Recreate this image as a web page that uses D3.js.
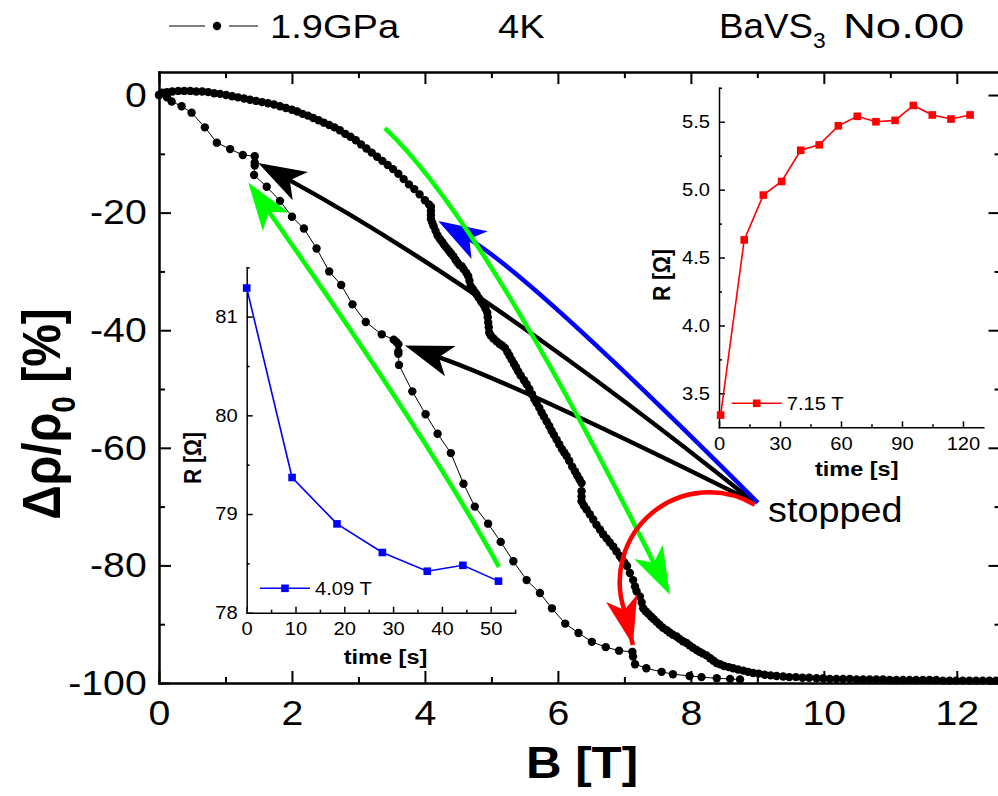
<!DOCTYPE html>
<html><head><meta charset="utf-8">
<script src="https://cdn.jsdelivr.net/npm/d3@7"></script>
<style>body{margin:0;background:#fff} svg{display:block}</style>
</head><body>
<svg id="c" width="998" height="796"></svg>
<script>
// ================= DATA =================
// main curve: field sweep with stops (B [T], Δρ/ρ0 [%])
const upperSweep = [
[0.00,0.0],[0.05,0.4],[0.12,0.5],[0.20,0.6],[0.29,0.7],[0.38,0.7],[0.47,0.7],[0.56,0.6],[0.65,0.6],[0.74,0.5],
[0.83,0.3],[0.92,0.2],[1.01,0.0],[1.10,-0.2],[1.19,-0.4],[1.28,-0.6],[1.37,-0.8],[1.46,-1.0],[1.55,-1.2],[1.64,-1.4],
[1.73,-1.6],[1.82,-1.9],[1.91,-2.2],[2.00,-2.5],[2.08,-2.8],[2.16,-3.2],[2.24,-3.5],[2.32,-3.9],[2.40,-4.3],[2.48,-4.7],
[2.56,-5.1],[2.64,-5.5],[2.72,-6.0],[2.80,-6.6],[2.88,-7.1],[2.96,-7.7],[3.04,-8.4],[3.12,-9.1],[3.20,-9.8],[3.28,-10.5],
[3.36,-11.2],[3.44,-11.9],[3.52,-12.6],[3.60,-13.4],[3.68,-14.3],[3.76,-15.2],[3.84,-16.0],[3.92,-16.9],[4.00,-17.9],[4.06,-18.6],
[4.09,-19.0],[4.09,-19.7],[4.09,-20.4],[4.09,-21.1],[4.11,-21.7],[4.13,-22.3],[4.16,-23.1],[4.19,-23.9],[4.225,-24.5],[4.26,-25.0],
[4.29,-25.5],[4.326,-26.0],[4.36,-26.5],[4.39,-26.9],[4.426,-27.4],[4.46,-28.0],[4.49,-28.5],[4.52,-28.9],[4.551,-29.1],[4.58,-29.6],
[4.62,-30.2],[4.651,-30.8],[4.67,-31.6],[4.687,-32.5],[4.72,-33.0],[4.75,-33.5],[4.777,-33.9],[4.81,-34.5],[4.845,-35.1],[4.877,-35.6],
[4.91,-36.3],[4.937,-37.0],[4.945,-37.8],[4.952,-38.7],[4.96,-39.5],[4.967,-40.4],[4.99,-40.9],[5.03,-41.4],[5.078,-41.9],[5.12,-42.3],
[5.16,-42.6],[5.203,-43.0],[5.24,-43.7],[5.27,-44.3],[5.304,-45.0],[5.34,-45.7],[5.37,-46.3],[5.403,-47.0],[5.44,-47.7],[5.49,-48.5],
[5.529,-49.2],[5.57,-50.0],[5.61,-50.9],[5.645,-51.7],[5.68,-52.4],[5.72,-53.2],[5.755,-54.0],[5.79,-54.7],[5.83,-55.5],[5.87,-56.3],
[5.905,-57.1],[5.94,-57.8],[5.98,-58.6],[6.02,-59.4],[6.06,-60.2],[6.095,-60.8],[6.131,-61.4],[6.17,-62.2],[6.215,-63.2],[6.256,-64.0],
[6.29,-64.7],[6.325,-65.4],[6.356,-66.0],[6.356,-67.4],[6.356,-68.3],[6.356,-69.1],[6.39,-69.8],[6.431,-70.5],[6.48,-71.3],[6.531,-72.2],
[6.58,-73.1],[6.632,-73.9],[6.68,-74.7],[6.732,-75.4],[6.78,-76.1],[6.832,-76.8],[6.88,-77.6],[6.93,-78.4],[6.958,-78.8],[7.00,-79.5],
[7.04,-80.1],[7.083,-81.3],[7.132,-82.5],[7.16,-83.6],[7.183,-84.4],[7.233,-85.3],[7.26,-86.3],[7.283,-87.3],[7.32,-87.8],[7.358,-88.2],
[7.40,-88.7],[7.44,-89.1],[7.484,-89.6],[7.53,-90.1],[7.58,-90.6],[7.634,-91.0],[7.68,-91.4],[7.73,-91.8],[7.785,-92.1],[7.83,-92.5],
[7.88,-92.9],[7.935,-93.2],[7.98,-93.6],[8.03,-94.0],[8.086,-94.4],[8.13,-94.7],[8.18,-95.0],[8.236,-95.3],[8.29,-95.8],[8.34,-96.2],
[8.386,-96.6],[8.44,-96.8],[8.50,-97.1],[8.57,-97.3],[8.636,-97.5],[8.71,-97.7],[8.79,-97.9],[8.86,-98.1],[8.937,-98.3],[9.02,-98.4],
[9.11,-98.6],[9.20,-98.7],[9.29,-98.8],[9.388,-98.9],[9.48,-99.0],[9.58,-99.0],[9.68,-99.1],[9.78,-99.1],[9.89,-99.2],[9.99,-99.2],
[10.09,-99.3],[10.19,-99.3],[10.29,-99.3],[10.39,-99.3],[10.49,-99.4],[10.59,-99.4],[10.69,-99.4],[10.79,-99.4],[10.89,-99.4],[10.99,-99.5],
[11.09,-99.5],[11.19,-99.5],[11.29,-99.5],[11.39,-99.5],[11.49,-99.5],[11.59,-99.5],[11.69,-99.5],[11.79,-99.6],[11.89,-99.6],[11.99,-99.6],
[12.09,-99.6],[12.19,-99.6],[12.29,-99.6],[12.39,-99.6],[12.49,-99.6],[12.59,-99.6]
];
const lowerSweep = [
[0.00,0.0],[0.12,-0.4],[0.19,-1.1],[0.34,-1.9],[0.49,-3.0],[0.69,-5.5],[0.87,-8.1],[1.07,-9.2],[1.26,-10.2],[1.44,-10.4],
[1.44,-11.5],[1.44,-12.0],[1.43,-13.6],[1.62,-15.6],[1.82,-18.0],[2.00,-20.7],[2.18,-22.7],[2.37,-26.1],[2.56,-30.0],[2.74,-32.3],
[2.91,-35.6],[3.11,-38.6],[3.35,-40.7],[3.53,-41.6],[3.57,-42.0],[3.60,-42.4],[3.60,-43.6],[3.60,-44.0],[3.61,-45.9],[3.81,-50.4],
[4.01,-54.3],[4.19,-57.6],[4.39,-60.9],[4.58,-66.1],[4.75,-70.0],[4.95,-72.9],[5.14,-76.0],[5.33,-79.3],[5.53,-82.5],[5.73,-84.7],
[5.91,-87.3],[6.11,-89.9],[6.31,-91.5],[6.51,-93.0],[6.72,-93.9],[6.92,-94.5],[7.12,-94.7],[7.13,-95.5],[7.16,-96.8],[7.33,-97.5],
[7.56,-98.1],[7.73,-98.5],[7.98,-98.8],[8.16,-99.0],[8.39,-99.2],[8.59,-99.3],[8.74,-99.4]
];
// inset at 4.09 T
const relaxA_time = [0, 9.3, 18.5, 27.8, 37.0, 44.3, 51.6];
const relaxA_R    = [81.29, 79.37, 78.90, 78.61, 78.42, 78.48, 78.32];
// inset at 7.15 T
const relaxB_time = [0.8, 12.4, 21.8, 30.8, 40.2, 49.3, 58.7, 68.0, 77.2, 86.6, 95.6, 104.9, 114.1, 123.5];
const relaxB_R    = [3.34, 4.63, 4.96, 5.06, 5.29, 5.33, 5.47, 5.54, 5.50, 5.51, 5.62, 5.55, 5.52, 5.55];

// ticks
const mainXMajor = [0,2,4,6,8,10,12], mainXMinor = [1,3,5,7,9,11];
const mainYMajor = [0,-20,-40,-60,-80,-100], mainYMinor = [-10,-30,-50,-70,-90];
const inAXMajor = [0,10,20,30,40,50], inAXMinor = [5,15,25,35,45,55];
const inAYMajor = [78,79,80,81], inAYMinor = [78.5,79.5,80.5,81.5];
const inBXMajor = [0,30,60,90,120], inBXMinor = [15,45,75,105];
const inBYMajor = [3.5,4.0,4.5,5.0,5.5], inBYMinor = [3.75,4.25,4.75,5.25,5.75];

// labels
const legendMain = "1.9GPa", tempLabel = "4K", sampleLabel = "BaVS", sampleSub = "3", sampleNo = "No.00";
const legendA = "4.09 T", legendB = "7.15 T", stopLabel = "stopped";

// annotation arrows (data coordinates of main plot: [B, Δρ/ρ0])
const arrowsQ = [
  {color:"#000000", from:[8.962,-69.34], ctrl:[4.917,-32.68], tip:[1.492,-11.58]},
  {color:"#000000", from:[8.962,-69.34], ctrl:[5.409,-49.30], tip:[3.699,-42.59]},
  {color:"#0000ff", from:[9.008,-69.34], ctrl:[5.586,-30.58], tip:[4.200,-21.41]},
  {color:"#00ff00", from:[5.113,-80.24], ctrl:[4.030,-58.09], tip:[1.343,-14.87]},
  {color:"#00ff00", from:[3.398,-5.62],  ctrl:[4.857,-21.14], tip:[7.684,-85.01]}
];
const redArc = {color:"#ff0000", pts:[[8.962,-69.68],[7.729,-69.34],[6.977,-84.67]], end:[7.008,-87.9], tip:[7.128,-93.53]};

// ================= DRAW =================
const FONT = '"Liberation Sans", Arial, Helvetica, sans-serif';
const SX = 1.12;
const DOT = 4.2;
const svg = d3.select("#c");
const fmtInt = d => String(d);

const x = d3.scaleLinear().domain([0,12.65]).range([159,1000]);
const y = d3.scaleLinear().domain([-100,3.9]).range([683,72.1]);

function txt(parent, tx, ty, pieces, o={}) {
  const size=o.size||18, rot=o.rotate||0, sx=o.sx||SX;
  const g = parent.append("g").attr("transform",`translate(${tx},${ty}) scale(${sx},1) rotate(${rot})`);
  const t = g.append("text").attr("text-anchor",o.anchor||"start").attr("font-size",size)
    .attr("font-weight",o.weight||"normal").attr("fill",o.fill||"#000").attr("font-family",FONT);
  if (o.dy) t.attr("dy",o.dy);
  if (typeof pieces==="string") pieces=[[pieces]];
  pieces.forEach(p=>{
    const s=t.append("tspan").text(p[0]);
    if (p[1]==="sub") s.attr("font-size",size*0.62).attr("dy",size*0.28);
    if (p[1]==="after") s.attr("dy",-size*0.28);
  });
  return t;
}
function styleAxis(g, fs, sw, tw) {
  g.attr("font-size",fs).attr("font-family",FONT);
  g.select(".domain").attr("stroke","#000").attr("stroke-width",sw).attr("stroke-linecap","square");
  g.selectAll(".tick line").attr("stroke","#000").attr("stroke-width",tw);
  g.selectAll(".tick text").attr("fill","#000").attr("transform",`scale(${SX},1)`);
  return g;
}
function minor(g){ g.select(".domain").remove(); return g; }

// ---------- insets (behind) ----------
function inset(cfg){
  const ix=d3.scaleLinear().domain(cfg.xd).range(cfg.xr);
  const iy=d3.scaleLinear().domain(cfg.yd).range(cfg.yr);
  const g=svg.append("g");
  styleAxis(g.append("g").attr("transform",`translate(0,${cfg.yr[0]})`)
    .call(d3.axisBottom(ix).tickValues(cfg.xMaj).tickSize(-6).tickSizeOuter(0).tickPadding(10).tickFormat(fmtInt)),18,1.5,1.5);
  minor(styleAxis(g.append("g").attr("transform",`translate(0,${cfg.yr[0]})`)
    .call(d3.axisBottom(ix).tickValues(cfg.xMin).tickSize(-3).tickFormat("")),18,1.5,1.5));
  styleAxis(g.append("g").attr("transform",`translate(${cfg.xr[0]},0)`)
    .call(d3.axisLeft(iy).tickValues(cfg.yMaj).tickSize(-6).tickSizeOuter(0).tickPadding(8).tickFormat(cfg.yFmt)),18,1.5,1.5);
  minor(styleAxis(g.append("g").attr("transform",`translate(${cfg.xr[0]},0)`)
    .call(d3.axisLeft(iy).tickValues(cfg.yMin).tickSize(-3).tickFormat("")),18,1.5,1.5));
  const pts=cfg.t.map((t,i)=>[t,cfg.r[i]]);
  g.append("path").attr("d",d3.line().x(d=>ix(d[0])).y(d=>iy(d[1]))(pts))
    .attr("fill","none").attr("stroke",cfg.color).attr("stroke-width",1.6);
  g.selectAll("rect.pt").data(pts).join("rect").attr("class","pt")
    .attr("x",d=>ix(d[0])-3.8).attr("y",d=>iy(d[1])-3.8).attr("width",7.6).attr("height",7.6).attr("fill",cfg.color);
  // legend
  const lx=cfg.legX, ly=cfg.legY;
  g.append("line").attr("x1",lx).attr("x2",lx+50).attr("y1",ly).attr("y2",ly).attr("stroke",cfg.color).attr("stroke-width",1.6);
  g.append("rect").attr("x",lx+25-3.8).attr("y",ly-3.8).attr("width",7.6).attr("height",7.6).attr("fill",cfg.color);
  txt(g, lx+55, ly+6.5, cfg.leg, {size:18});
  txt(g, cfg.yTitle[0], cfg.yTitle[1], "R [Ω]", {size:21, weight:"bold", anchor:"middle", rotate:-90, dy:"0.35em"});
  txt(g, cfg.xTitle[0], cfg.xTitle[1], "time [s]", {size:21, weight:"bold", anchor:"middle"});
}
inset({xd:[0,55], xr:[246.7,515.1], yd:[78,81.5], yr:[612.7,267.3], xMaj:inAXMajor, xMin:inAXMinor,
  yMaj:inAYMajor, yMin:inAYMinor, yFmt:fmtInt, t:relaxA_time, r:relaxA_R, color:"#0000ff",
  legX:260, legY:588.3, leg:legendA, yTitle:[192.5,458], xTitle:[385.5,664]});
inset({xd:[0,130], xr:[719,983.3], yd:[3.25,5.75], yr:[427.3,87.8], xMaj:inBXMajor, xMin:inBXMinor,
  yMaj:inBYMajor, yMin:inBYMinor, yFmt:d3.format(".1f"), t:relaxB_time, r:relaxB_R, color:"#ff0000",
  legX:731.7, legY:403.3, leg:legendB, yTitle:[661.7,275], xTitle:[856.7,476]});

// ---------- main axes ----------
const ax=svg.append("g");
styleAxis(ax.append("g").attr("transform",`translate(0,${y(-100)})`)
  .call(d3.axisBottom(x).tickValues(mainXMajor).tickSize(-12).tickSizeOuter(0).tickPadding(17).tickFormat(fmtInt)),35,2.5,2);
minor(styleAxis(ax.append("g").attr("transform",`translate(0,${y(-100)})`)
  .call(d3.axisBottom(x).tickValues(mainXMinor).tickSize(-6).tickFormat("")),35,2.5,2));
styleAxis(ax.append("g").attr("transform",`translate(0,${y(3.9)})`)
  .call(d3.axisTop(x).tickValues(mainXMajor).tickSize(-12).tickSizeOuter(0).tickFormat("")),35,2.5,2);
minor(styleAxis(ax.append("g").attr("transform",`translate(0,${y(3.9)})`)
  .call(d3.axisTop(x).tickValues(mainXMinor).tickSize(-6).tickFormat("")),35,2.5,2));
styleAxis(ax.append("g").attr("transform",`translate(${x(0)},0)`)
  .call(d3.axisLeft(y).tickValues(mainYMajor).tickSize(-12).tickSizeOuter(0).tickPadding(11).tickFormat(fmtInt)),35,2.5,2);
minor(styleAxis(ax.append("g").attr("transform",`translate(${x(0)},0)`)
  .call(d3.axisLeft(y).tickValues(mainYMinor).tickSize(-6).tickFormat("")),35,2.5,2));
styleAxis(ax.append("g").attr("transform",`translate(${x(12.65)+0.5},0)`)
  .call(d3.axisRight(y).tickValues(mainYMajor).tickSize(-12).tickSizeOuter(0).tickFormat("")),35,2.5,2);
minor(styleAxis(ax.append("g").attr("transform",`translate(${x(12.65)+0.5},0)`)
  .call(d3.axisRight(y).tickValues(mainYMinor).tickSize(-6).tickFormat("")),35,2.5,2));

// ---------- main data ----------
const line=d3.line().x(d=>x(d[0])).y(d=>y(d[1]));
[upperSweep, lowerSweep].forEach(s=>{
  svg.append("path").attr("d",line(s)).attr("fill","none").attr("stroke","#000").attr("stroke-width",1);
});
[upperSweep, lowerSweep].forEach(s=>{
  svg.append("g").selectAll("circle").data(s).join("circle")
    .attr("cx",d=>x(d[0])).attr("cy",d=>y(d[1])).attr("r",DOT).attr("fill","#000");
});

// ---------- arrows ----------
const P=d=>[x(d[0]),y(d[1])];
function head(g, tip, from, color){
  const dx=tip[0]-from[0], dy=tip[1]-from[1], L=Math.hypot(dx,dy);
  const ux=dx/L, uy=dy/L, nx=-uy, ny=ux, len=48, hw=16, notch=36;
  const b=[tip[0]-ux*len, tip[1]-uy*len];
  const w1=[b[0]+nx*hw,b[1]+ny*hw], w2=[b[0]-nx*hw,b[1]-ny*hw];
  const nt=[tip[0]-ux*notch, tip[1]-uy*notch];
  g.append("path").attr("d",`M${tip}L${w1}L${nt}L${w2}Z`).attr("fill",color);
  return nt;
}
const ag=svg.append("g");
arrowsQ.forEach(a=>{
  const p0=P(a.from), c=P(a.ctrl), t=P(a.tip);
  const dx=t[0]-c[0], dy=t[1]-c[1], L=Math.hypot(dx,dy);
  const e=[t[0]-dx/L*34, t[1]-dy/L*34];
  ag.append("path").attr("d",`M${p0}Q${c} ${e}`).attr("fill","none").attr("stroke",a.color).attr("stroke-width",4.5);
  head(ag, t, c, a.color);
});
(function(){
  const [a,b,c]=redArc.pts.map(P);
  const d=2*(a[0]*(b[1]-c[1])+b[0]*(c[1]-a[1])+c[0]*(a[1]-b[1]));
  const ux=((a[0]**2+a[1]**2)*(b[1]-c[1])+(b[0]**2+b[1]**2)*(c[1]-a[1])+(c[0]**2+c[1]**2)*(a[1]-b[1]))/d;
  const uy=((a[0]**2+a[1]**2)*(c[0]-b[0])+(b[0]**2+b[1]**2)*(a[0]-c[0])+(c[0]**2+c[1]**2)*(b[0]-a[0]))/d;
  const r=Math.hypot(a[0]-ux,a[1]-uy);
  const e=P(redArc.end), t=P(redArc.tip);
  ag.append("path").attr("d",`M${a}A${r},${r} 0 0 0 ${e}L${t}`).attr("fill","none").attr("stroke",redArc.color).attr("stroke-width",4.5);
  head(ag, t, e, redArc.color);
})();

// ---------- texts ----------
txt(svg, 768, 522, stopLabel, {size:35, sx:1.08});
// top legend
svg.append("line").attr("x1",169).attr("x2",205).attr("y1",26).attr("y2",26).attr("stroke","#000").attr("stroke-width",1);
svg.append("line").attr("x1",229).attr("x2",258).attr("y1",26).attr("y2",26).attr("stroke","#000").attr("stroke-width",1);
svg.append("circle").attr("cx",217).attr("cy",26).attr("r",DOT).attr("fill","#000");
txt(svg, 270, 38, legendMain, {size:34});
txt(svg, 498, 38, tempLabel, {size:34});
txt(svg, 719, 38, [[sampleLabel],[sampleSub,"sub"]], {size:35, sx:1.05});
txt(svg, 843, 38, sampleNo, {size:35, sx:1.3});
// axis titles
txt(svg, 582, 778, "B [T]", {size:44, weight:"bold", anchor:"middle"});
txt(svg, 41, 414, [["Δρ/ρ"],["0","sub"],[" [%]","after"]], {size:48, weight:"bold", anchor:"middle", rotate:-90, dy:"0.35em"});
</script>
</body></html>
